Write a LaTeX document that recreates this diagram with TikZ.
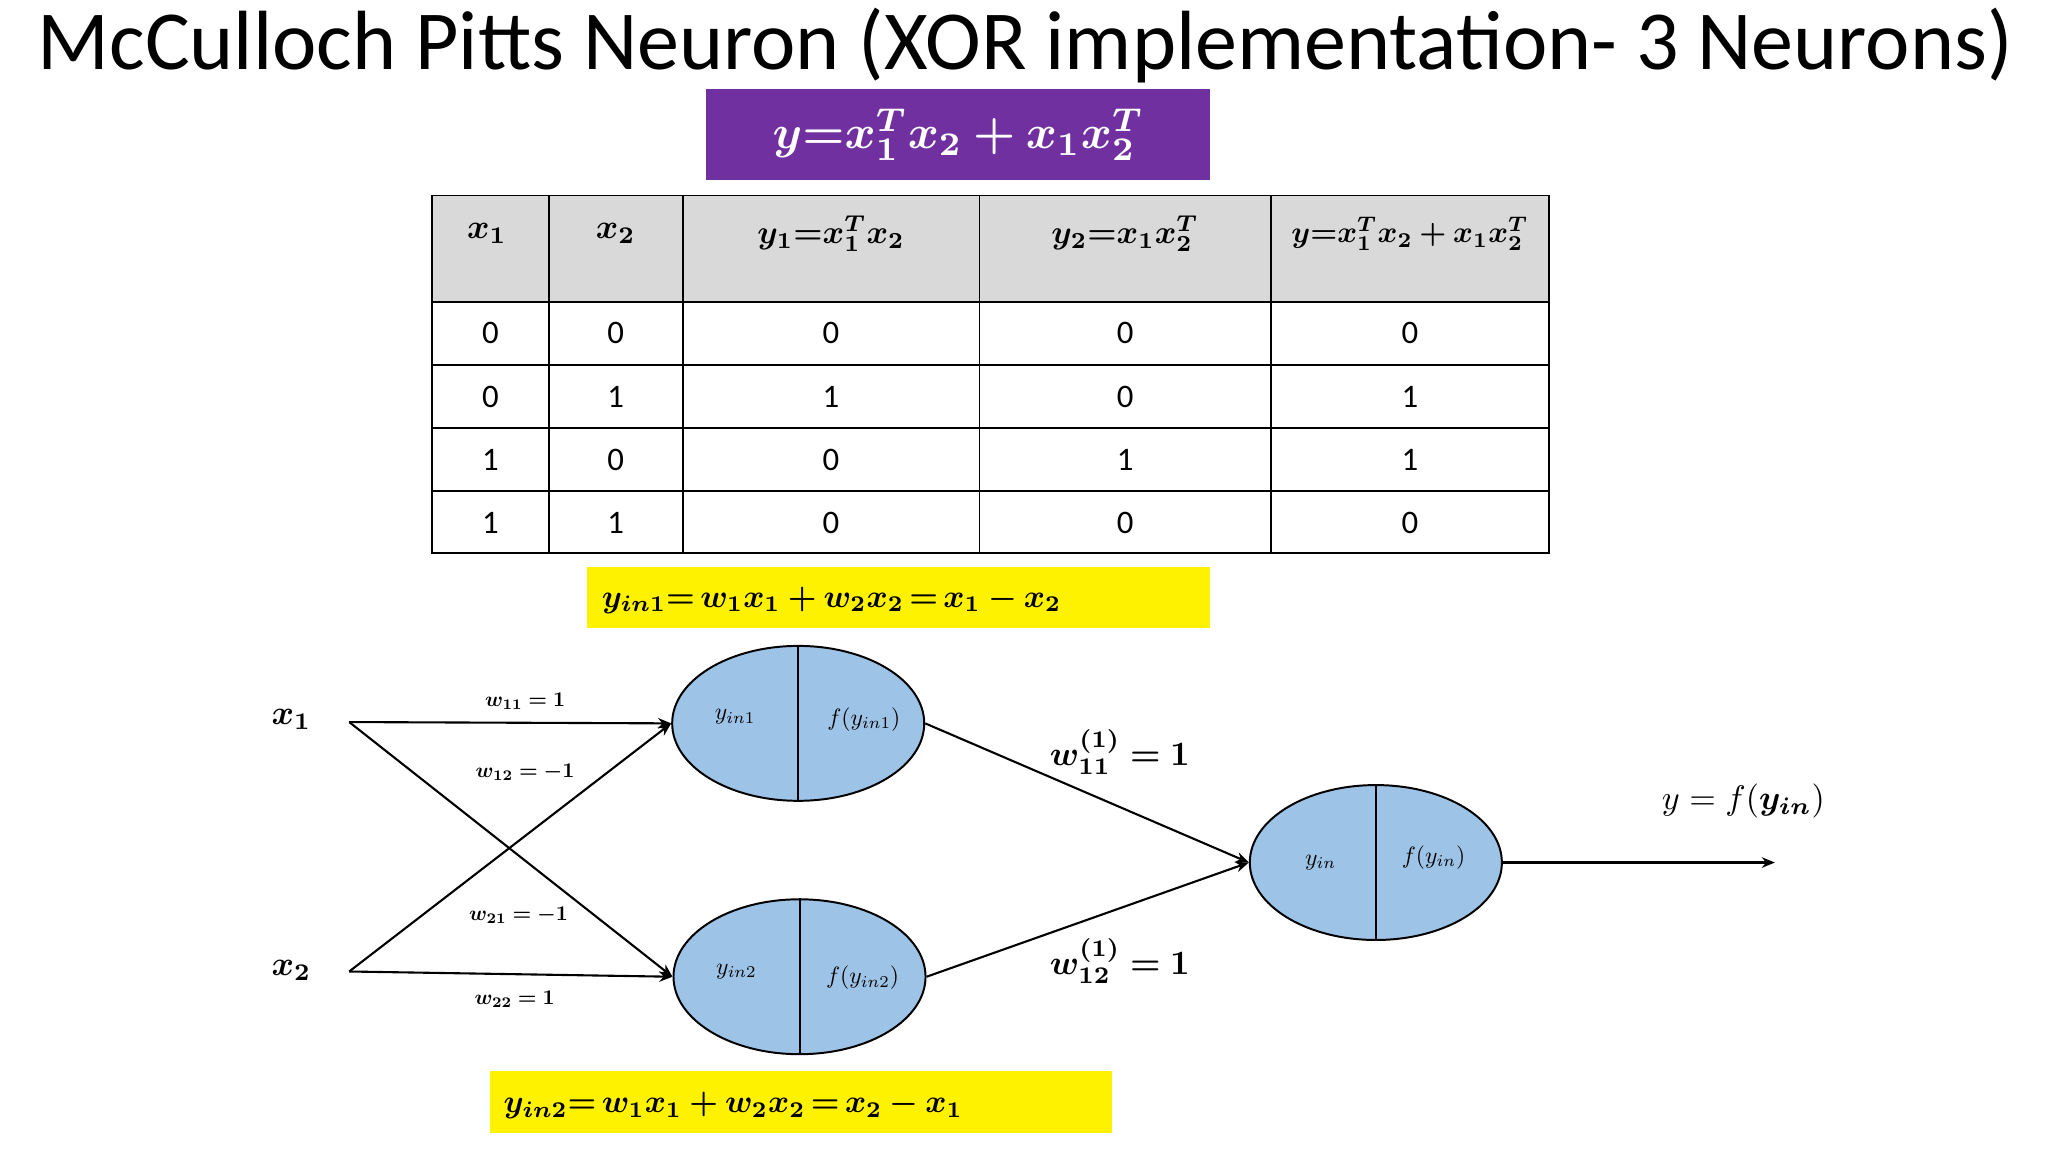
\documentclass[tikz,border=0pt]{standalone}
\usepackage{amsmath,bm,graphicx}
\usepackage{fontspec}
\setmainfont{Carlito}
\usetikzlibrary{arrows.meta,shapes.geometric}
\definecolor{purp}{HTML}{7030A0}
\definecolor{neu}{HTML}{9DC3E6}
\definecolor{hdr}{HTML}{D9D9D9}
\newcommand{\fs}[1]{\fontsize{#1}{#1}\selectfont}
\newcommand{\mth}[2]{\scalebox{#1}{$#2$}}
\begin{document}
\begin{tikzpicture}[x=1pt,y=-1pt,
  neuron/.style={ellipse,draw,line width=1.5pt,fill=neu,minimum width=192pt,minimum height=118pt,inner sep=0pt},
  conn/.style={line width=1.6pt,-{Stealth[length=10pt,width=8pt]}},
  cell/.style={font=\fs{25}},
  ]
\useasboundingbox (0,0) rectangle (1560,877.5);
\node[font=\fs{64}] (title) at (781,35) {McCulloch Pitts Neuron (XOR implementation- 3 Neurons)};
\node[fill=purp,text=white,minimum width=384pt,minimum height=69pt] (eq) at (730,102.5)
  {\mth{3.6}{\bm{y{=}x_1^Tx_2+x_1x_2^T}}};
% table
\fill[hdr] (329,149) rectangle (1180,230);
\draw[line width=1.3pt] (329,149) rectangle (1180,421);
\foreach \x in {418,520,746,968} \draw[line width=1.3pt] (\x,149) -- (\x,421);
\foreach \y in {230,278,326,374} \draw[line width=1.3pt] (329,\y) -- (1180,\y);
\node (h1) at (371,178) {\mth{2.6}{\bm{x_1}}};
\node (h2) at (469,178) {\mth{2.6}{\bm{x_2}}};
\node (h3) at (633,178) {\mth{2.5}{\bm{y_1{=}x_1^Tx_2}}};
\node (h4) at (857,178) {\mth{2.5}{\bm{y_2{=}x_1x_2^T}}};
\node (h5) at (1074,178) {\mth{2.3}{\bm{y{=}x_1^Tx_2+x_1x_2^T}}};
\foreach \a/\b/\c/\d/\e [count=\i] in {0/0/0/0/0,0/1/1/0/1,1/0/0/1/1,1/1/0/0/0}{
  \pgfmathsetmacro{\yy}{206+48*\i}
  \node[cell] (r\i a) at (373.5,\yy) {\a};
  \node[cell] (r\i b) at (469,\yy) {\b};
  \node[cell] (r\i c) at (633,\yy) {\c};
  \node[cell] (r\i d) at (857,\yy) {\d};
  \node[cell] (r\i e) at (1074,\yy) {\e};
}
% yellow boxes
\fill[yellow] (447,432) rectangle (922,478);
\node[anchor=west] (yb1) at (455,457) {\mth{2.45}{\bm{y_{in1}{=}\,w_1x_1+w_2x_2\,{=}\,x_1-x_2}}};
\fill[yellow] (373,816) rectangle (847,863);
\node[anchor=west] (yb2) at (380,842) {\mth{2.45}{\bm{y_{in2}{=}\,w_1x_1+w_2x_2\,{=}\,x_2-x_1}}};
% neurons
\node[neuron] (n1) at (608,551) {};
\node[neuron] (n2) at (609,744) {};
\node[neuron] (n3) at (1048,657) {};
\foreach \n in {n1,n2,n3} \draw[line width=1.5pt] (\n.north) -- (\n.south);
\node (t1a) at (560,546) {\mth{1.8}{y_{in1}}};
\node (t1b) at (658,548) {\mth{1.8}{f(y_{in1})}};
\node (t2a) at (561,740) {\mth{1.8}{y_{in2}}};
\node (t2b) at (657,745) {\mth{1.8}{f(y_{in2})}};
\node (t3a) at (1006,657) {\mth{1.8}{y_{in}}};
\node (t3b) at (1092,653) {\mth{1.8}{f(y_{in})}};
% inputs
\node (x1) at (222,548) {\mth{2.6}{\bm{x_1}}};
\node (x2) at (222,739) {\mth{2.6}{\bm{x_2}}};
\coordinate (a1) at (266,550);
\coordinate (a2) at (266,740);
\draw[conn] (a1) -- (n1.west);
\draw[conn] (a1) -- (n2.west);
\draw[conn] (a2) -- (n1.west);
\draw[conn] (a2) -- (n2.west);
\node (w11) at (400,534) {\mth{1.6}{\bm{w_{11}=1}}};
\node (w12) at (400,588) {\mth{1.6}{\bm{w_{12}=-1}}};
\node (w21) at (395,697) {\mth{1.6}{\bm{w_{21}=-1}}};
\node (w22) at (392,761) {\mth{1.6}{\bm{w_{22}=1}}};
\draw[conn] (n1.east) -- (n3.west);
\draw[conn] (n2.east) -- (n3.west);
\node (v1) at (853,573) {\mth{2.6}{\bm{w_{11}^{(1)}=1}}};
\node (v2) at (853,732) {\mth{2.6}{\bm{w_{12}^{(1)}=1}}};
\coordinate (out) at (1352,657);
\draw[conn] (n3.east) -- (out);
\node (yl) at (1328,610) {\mth{2.6}{y=f(\bm{y_{in}})}};
\end{tikzpicture}
\end{document}
